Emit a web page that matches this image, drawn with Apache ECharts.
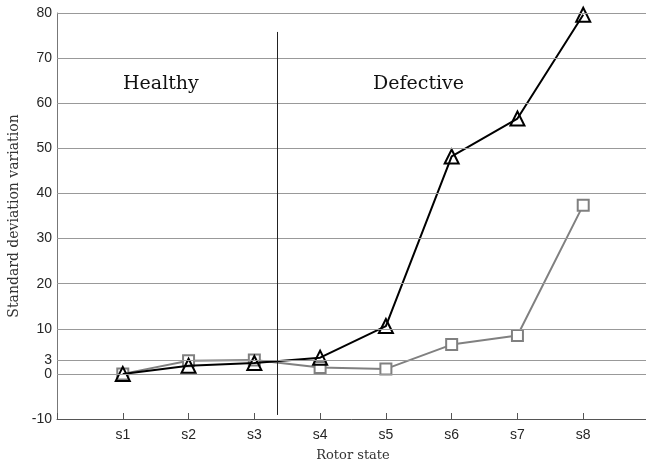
<!DOCTYPE html>
<html><head><meta charset="utf-8">
<script src="https://cdn.jsdelivr.net/npm/echarts@6/dist/echarts.min.js"></script>
<style>html,body{margin:0;padding:0;background:#fff}#c{width:646px;height:465px}</style>
</head><body><div id="c"></div>
<script>
const categories = ['s1','s2','s3','s4','s5','s6','s7','s8'];
const blackValues = [0, 1.8, 2.4, 3.6, 10.6, 48.2, 56.6, 79.6];
const grayValues = [0, 2.9, 3.1, 1.4, 1.1, 6.5, 8.5, 37.4];
const yTicks = [-10, 0, 3, 10, 20, 30, 40, 50, 60, 70, 80];
const dividerX = 3.35;
const regionTexts = ['Healthy', 'Defective'];

const chart = echarts.init(document.getElementById('c'));
const toPts = arr => arr.map((v, i) => [i + 1, v]);
const serif = '"DejaVu Serif", "Liberation Serif", serif';
const sans = '"Liberation Sans", Arial, sans-serif';
chart.setOption({
  animation: false,
  grid: {left: 57, right: -3, top: 13, bottom: 46, containLabel: false, outerBoundsMode: 'none'},
  xAxis: {
    type: 'value', min: 0, max: categories.length + 1, interval: 1,
    axisLine: {onZero: false, lineStyle: {color: '#555', width: 1}},
    axisTick: {inside: true, length: 6, lineStyle: {color: '#555'}},
    axisLabel: {
      margin: 9, fontFamily: sans, fontSize: 14, color: '#262626',
      formatter: v => (v >= 1 && v <= categories.length) ? categories[v - 1] : ''
    },
    splitLine: {show: false},
    name: 'Rotor state', nameLocation: 'middle', nameGap: 30,
    nameTextStyle: {fontFamily: serif, fontSize: 13, color: '#333'}
  },
  yAxis: {
    type: 'value', min: -10, max: 80, interval: 1,
    axisLine: {show: true, onZero: false, lineStyle: {color: '#777'}},
    axisTick: {show: false},
    axisLabel: {
      customValues: yTicks, margin: 5,
      fontFamily: sans, fontSize: 14, color: '#262626'
    },
    splitLine: {show: false},
    name: 'Standard deviation variation', nameLocation: 'middle', nameGap: 34,
    nameTextStyle: {fontFamily: serif, fontSize: 14, color: '#333'}
  },
  series: [
    {
      type: 'line', data: [], z: 1, silent: true,
      markLine: {
        silent: true, symbol: 'none', label: {show: false},
        lineStyle: {color: '#999', width: 1, type: 'solid'},
        data: yTicks.filter(v => v > -10).map(v => ({yAxis: v}))
      }
    },
    {
      type: 'line', data: [], z: 2, silent: true,
      markLine: {
        silent: true, symbol: 'none', label: {show: false},
        lineStyle: {color: '#222', width: 1, type: 'solid'},
        data: [[{coord: [dividerX, -9.1]}, {coord: [dividerX, 75.8]}]]
      }
    },
    {
      type: 'line', data: toPts(grayValues), z: 3,
      lineStyle: {color: '#808080', width: 2},
      symbol: 'rect', symbolSize: 11,
      itemStyle: {color: '#fff', borderColor: '#808080', borderWidth: 2}
    },
    {
      type: 'line', data: toPts(blackValues), z: 4,
      lineStyle: {color: '#000', width: 2},
      symbol: 'triangle', symbolSize: 14,
      itemStyle: {color: 'rgba(255,255,255,0)', borderColor: '#000', borderWidth: 2}
    }
  ],
  graphic: [
    {type: 'text', left: 123, top: 75, style: {text: regionTexts[0], font: '19px ' + serif, fill: '#111'}},
    {type: 'text', left: 373, top: 75, style: {text: regionTexts[1], font: '19px ' + serif, fill: '#111'}}
  ]
});
</script></body></html>
